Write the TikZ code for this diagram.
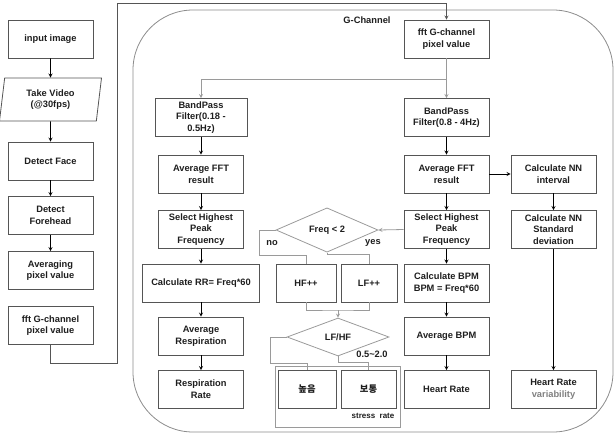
\documentclass[tikz,border=0pt]{standalone}
\usepackage{fontspec}
\setmainfont{Liberation Sans}
\newfontfamily\krfont{Noto Sans CJK KR}
\usetikzlibrary{shapes.geometric}

\definecolor{boxline}{HTML}{555555}
\definecolor{flowline}{HTML}{9A9A9A}
\definecolor{frameline}{HTML}{8C8C8C}
\definecolor{textdark}{HTML}{1E1E1E}

\tikzstyle{process} = [
rectangle,
minimum width=85pt,
minimum height=38pt,
inner sep=1pt,
text centered,
align=center,
draw=boxline,
line width=0.8pt,
text=textdark,
font=\fontsize{9.3}{11.7}\selectfont\bfseries
]
\tikzstyle{io} = [
process,
trapezium,
trapezium left angle=77,
trapezium right angle=103,
trapezium stretches body,
minimum width=102pt,
minimum height=43pt
]
\tikzstyle{decision} = [
diamond,
minimum width=102pt,
minimum height=36pt,
inner sep=0pt,
draw=flowline,
line width=0.8pt,
text=textdark,
font=\fontsize{9.3}{11.7}\selectfont\bfseries
]
\tikzstyle{tag} = [
inner sep=0pt,
text=textdark,
font=\fontsize{9.3}{11.7}\selectfont\bfseries
]
\tikzstyle{line} = [
draw=flowline,
line width=0.8pt
]
\tikzstyle{arrow} = [
line width=0.8pt,
->,
>=stealth
]

\begin{document}
\begin{tikzpicture}[
x=1pt,
y=-1pt,
node distance=55pt
]
\useasboundingbox (0,0) rectangle (615,434);

% Frame
\draw [draw=frameline, line width=0.8pt, rounded corners=60pt] (133,10) rectangle (613,432);
\node (gchannel) [tag] at (367,20) {G-Channel};

% Nodes
\node (input) [process] at (50.5,39) {input image};
\node (video) [io, below of=input, node distance=60.5pt] {Take Video\\(@30fps)};
\node (face) [process, below of=video, node distance=61.5pt] {Detect Face};
\node (forehead) [process, below of=face, node distance=54.5pt] {Detect\\Forehead};
\node (averaging) [process, below of=forehead] {Averaging\\pixel value};
\node (fftleft) [process, below of=averaging] {fft G-channel\\pixel value};

\node (fft) [process] at (446.5,39) {fft G-channel\\pixel value};
\node (bpright) [process, below of=fft, node distance=78.5pt] {BandPass\\Filter(0.8 - 4Hz)};
\node (avgright) [process, below of=bpright, node distance=56.5pt] {Average FFT\\result};
\node (selright) [process, below of=avgright, node distance=55.5pt] {Select Highest\\Peak\\Frequency};
\node (bpm) [process, below of=selright, node distance=53.5pt] {Calculate BPM\\BPM = Freq*60};
\node (avgbpm) [process, below of=bpm, node distance=53pt] {Average BPM};
\node (hr) [process, below of=avgbpm, node distance=53.5pt] {Heart Rate};

\node (nnint) [process, right of=avgright, node distance=107pt] {Calculate NN\\interval};
\node (nnstd) [process, below of=nnint, node distance=55.5pt] {Calculate NN\\Standard\\deviation};
\node (hrv) [process, below of=nnstd, node distance=160pt] {Heart Rate\\\textcolor{gray}{variability}};

\node (bpleft) [process, minimum width=92pt] at (201,117.5) {BandPass\\Filter(0.18 -\\0.5Hz)};
\node (avgleft) [process, below of=bpleft, node distance=56.5pt] {Average FFT\\result};
\node (selleft) [process, below of=avgleft, node distance=55.5pt] {Select Highest\\Peak\\Frequency};
\node (rr) [process, minimum width=117pt, below of=selleft, node distance=53.5pt] {Calculate RR= Freq*60};
\node (avgresp) [process, below of=rr, node distance=53pt] {Average\\Respiration};
\node (resp) [process, below of=avgresp, node distance=53.5pt] {Respiration\\Rate};

\node (freq) [decision] at (327,230) {Freq < 2};
\node (hf) [process, minimum width=60pt] at (306,283) {HF++};
\node (lf) [process, minimum width=56pt] at (369,283) {LF++};
\node (lfhf) [decision, minimum height=38pt] at (338,337) {LF/HF};
\node (stressbox) [draw=flowline, line width=0.8pt, minimum width=125pt, minimum height=61pt] at (337.5,396.5) {};
\node (high) [process, minimum width=58pt] at (307,389.5) {\krfont 높음};
\node (normal) [process, minimum width=55pt] at (368.5,389.5) {\krfont 보통};

\node (nolabel) [tag] at (272,243) {no};
\node (yeslabel) [tag] at (373,243) {yes};
\node (rangelabel) [tag] at (372,354) {0.5\textasciitilde2.0};
\node (stresslabel) [tag, font=\fontsize{8}{9}\selectfont\bfseries] at (373,416) {stress\ \ rate};

\coordinate (loopa) at (117,363);
\coordinate (loopb) at (117,3);
\coordinate (split) at (446.5,79);
\coordinate (nobend) at (259,255);
\coordinate (join) at (338,310);
\coordinate (highbend) at (270,363);

% Arrows
\draw [arrow] (input) -- (video);
\draw [arrow] (video) -- (face);
\draw [arrow] (face) -- (forehead);
\draw [arrow] (forehead) -- (averaging);
\draw [arrow, draw=boxline] (fftleft.south) |- (loopa) -- (loopb) -| (fft.north);

\draw [line] (fft) -- (split);
\draw [arrow, draw=flowline] (split) -| (bpleft.north);
\draw [arrow, draw=flowline] (split) -- (bpright.north);

\draw [arrow] (bpleft) -- (avgleft);
\draw [arrow] (avgleft) -- (selleft);
\draw [arrow] (selleft) -- (rr);
\draw [arrow] (rr) -- (avgresp);
\draw [arrow] (avgresp) -- (resp);

\draw [arrow] (bpright) -- (avgright);
\draw [arrow] (avgright) -- (selright);
\draw [arrow] (selright) -- (bpm);
\draw [arrow] (bpm) -- (avgbpm);
\draw [arrow] (avgbpm) -- (hr);
\draw [arrow] (avgright) -- (nnint);
\draw [arrow] (nnint) -- (nnstd);
\draw [arrow] (nnstd) -- (hrv);

\draw [arrow, draw=flowline] (selright.west) -- (freq.east);
\draw [line] (freq.west) -| (nobend) -| (hf.north);
\draw [line] (freq.south) |- ([yshift=9pt]lf.north) -- (lf.north);
\draw [line] (hf.south) |- (join) -| (lf.south);
\draw [arrow, draw=flowline] (join) -- (lfhf.north);
\draw [line] (lfhf.west) -| (highbend) -| (high.north);
\draw [line] (lfhf.south) |- ([yshift=8pt]normal.north) -- (normal.north);

\end{tikzpicture}
\end{document}
